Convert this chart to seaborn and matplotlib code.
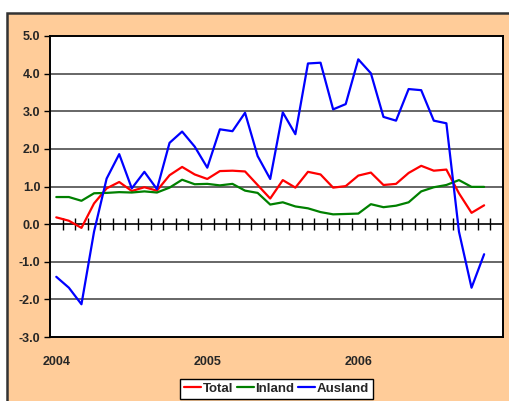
import numpy as np
import pandas as pd
import matplotlib
matplotlib.use("Agg")
import matplotlib.pyplot as plt
from matplotlib.patches import Rectangle
import seaborn as sns

# Monthly values, Jan 2004 - Nov 2006
months = list(range(35))
total = [0.18, 0.09, -0.10, 0.55, 0.95, 1.12, 0.88, 0.98, 0.89, 1.30,
         1.52, 1.32, 1.20, 1.41, 1.42, 1.40, 1.04, 0.68, 1.17, 0.97,
         1.39, 1.32, 0.97, 1.01, 1.29, 1.37, 1.04, 1.07, 1.36, 1.55,
         1.42, 1.45, 0.82, 0.30, 0.50]
inland = [0.72, 0.72, 0.62, 0.82, 0.83, 0.85, 0.84, 0.87, 0.84, 0.97,
          1.18, 1.06, 1.07, 1.03, 1.07, 0.89, 0.83, 0.52, 0.58, 0.47,
          0.42, 0.32, 0.26, 0.27, 0.28, 0.53, 0.45, 0.49, 0.58, 0.87,
          0.98, 1.04, 1.17, 0.99, 0.99]
ausland = [-1.40, -1.69, -2.13, -0.20, 1.21, 1.86, 0.95, 1.39, 0.93, 2.16,
           2.46, 2.06, 1.50, 2.52, 2.47, 2.96, 1.81, 1.20, 2.97, 2.39,
           4.27, 4.29, 3.05, 3.19, 4.38, 4.01, 2.85, 2.75, 3.59, 3.56,
           2.75, 2.68, -0.20, -1.69, -0.80]
series_names = ["Total", "Inland", "Ausland"]
series_colors = ["#FF0000", "#008000", "#0000FF"]
year_ticks = [0, 12, 24]
year_labels = ["2004", "2005", "2006"]
y_ticks = [-3, -2, -1, 0, 1, 2, 3, 4, 5]

df = pd.DataFrame({
    "month": months * 3,
    "value": total + inland + ausland,
    "series": ["Total"] * 35 + ["Inland"] * 35 + ["Ausland"] * 35,
})

sns.set_style("white")
plt.rcParams["font.family"] = ["Liberation Sans", "DejaVu Sans"]
plt.rcParams["font.weight"] = "bold"

W, H = 509, 401
fig = plt.figure(figsize=(W / 100, H / 100), dpi=100)
fig.patch.set_facecolor("white")

# Orange outer frame behind the plot
frame = Rectangle((7 / W, -0.2), 2.0, 1 - 13 / H + 0.2,
                  transform=fig.transFigure, facecolor="#FFCC99",
                  edgecolor="#333333", linewidth=1.8, zorder=-10)
fig.patches.append(frame)

ax = fig.add_axes([50 / W, 1 - 337 / H, 453 / W, 301 / H])
ax.set_zorder(1)
ax.set_facecolor("white")

sns.lineplot(data=df, x="month", y="value", hue="series",
             hue_order=series_names, palette=series_colors,
             linewidth=1.6, ax=ax, zorder=3)

ax.set_xlim(-0.5, 35.5)
ax.set_ylim(-3, 5)

# Horizontal gridlines
for yv in y_ticks[1:-1]:
    if yv != 0:
        ax.axhline(yv, color="#4d4d4d", linewidth=1.2, zorder=1)

ax.set_yticks(y_ticks)
ax.set_yticklabels([f"{v:.1f}" for v in y_ticks], fontsize=9, fontweight="bold")
ax.tick_params(axis="y", direction="out", length=4, width=1, color="black", pad=3, left=True)

ax.set_xticks(year_ticks)
ax.set_xticklabels(year_labels, fontsize=9, fontweight="bold")
ax.tick_params(axis="x", length=0, pad=14)
ax.set_xlabel("")
ax.set_ylabel("")

for sp in ax.spines.values():
    sp.set_color("black")
    sp.set_linewidth(1.4)

# Zero line carrying the month tick marks
zero_pos = (0 - (-3)) / 8
sec = ax.secondary_xaxis(zero_pos)
sec.set_xticks([k - 0.5 for k in range(1, 36)])
sec.set_xticklabels([])
sec.tick_params(direction="inout", length=9, width=1, color="black")
sec.spines["bottom"].set_color("black")
sec.spines["bottom"].set_linewidth(1.2)

handles, labels = ax.get_legend_handles_labels()
ax.get_legend().remove()
leg = fig.legend(handles, labels, loc="lower center",
                 bbox_to_anchor=(276.5 / W, 2 / H), ncol=3, frameon=True,
                 fancybox=False, edgecolor="black", facecolor="white",
                 framealpha=1, fontsize=9.5,
                 handlelength=1.3, handletextpad=0.1, columnspacing=0.3,
                 borderpad=0.3, borderaxespad=0)
leg.get_frame().set_linewidth(1.0)
for t in leg.get_texts():
    t.set_fontweight("bold")

fig.savefig("out.png", dpi=100)
